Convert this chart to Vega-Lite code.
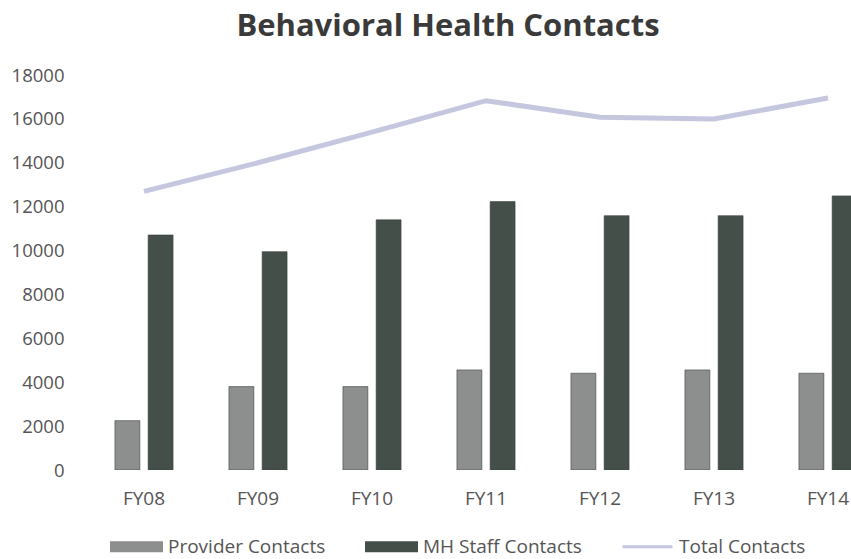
{
  "$schema": "https://vega.github.io/schema/vega-lite/v6.json",
  "width": 764,
  "height": 395,
  "autosize": "none",
  "padding": {"left": 87, "top": 75, "right": 0, "bottom": 89},
  "background": "white",
  "title": {
    "text": "Behavioral Health Contacts",
    "font": "Open Sans",
    "fontSize": 31,
    "fontWeight": "bold",
    "color": "#3a3a3a",
    "anchor": "middle",
    "dx": -21,
    "offset": 23
  },
  "config": {
    "view": {"stroke": null},
    "font": "Open Sans"
  },
  "data": {
    "values": [
      {"fy": "FY08", "series": "Provider Contacts", "value": 2250},
      {"fy": "FY08", "series": "MH Staff Contacts", "value": 10710},
      {"fy": "FY08", "series": "Total Contacts", "value": 12700},
      {"fy": "FY09", "series": "Provider Contacts", "value": 3800},
      {"fy": "FY09", "series": "MH Staff Contacts", "value": 9950},
      {"fy": "FY09", "series": "Total Contacts", "value": 14000},
      {"fy": "FY10", "series": "Provider Contacts", "value": 3800},
      {"fy": "FY10", "series": "MH Staff Contacts", "value": 11400},
      {"fy": "FY10", "series": "Total Contacts", "value": 15400},
      {"fy": "FY11", "series": "Provider Contacts", "value": 4560},
      {"fy": "FY11", "series": "MH Staff Contacts", "value": 12230},
      {"fy": "FY11", "series": "Total Contacts", "value": 16830},
      {"fy": "FY12", "series": "Provider Contacts", "value": 4410},
      {"fy": "FY12", "series": "MH Staff Contacts", "value": 11590},
      {"fy": "FY12", "series": "Total Contacts", "value": 16080},
      {"fy": "FY13", "series": "Provider Contacts", "value": 4560},
      {"fy": "FY13", "series": "MH Staff Contacts", "value": 11590},
      {"fy": "FY13", "series": "Total Contacts", "value": 16000},
      {"fy": "FY14", "series": "Provider Contacts", "value": 4410},
      {"fy": "FY14", "series": "MH Staff Contacts", "value": 12490},
      {"fy": "FY14", "series": "Total Contacts", "value": 16950}
    ]
  },
  "encoding": {
    "x": {
      "field": "fy",
      "type": "nominal",
      "sort": null,
      "title": null,
      "scale": {"range": [0, 798], "paddingInner": 0.49, "paddingOuter": 0.245},
      "axis": {
        "labelAngle": 0,
        "domain": false,
        "ticks": false,
        "labelPadding": 19,
        "labelFont": "Open Sans",
        "labelFontSize": 19,
        "labelColor": "#555555"
      }
    },
    "y": {
      "field": "value",
      "type": "quantitative",
      "title": null,
      "scale": {"domain": [0, 18000], "nice": false},
      "axis": {
        "values": [0, 2000, 4000, 6000, 8000, 10000, 12000, 14000, 16000, 18000],
        "format": "d",
        "grid": false,
        "domain": false,
        "ticks": false,
        "labelPadding": 23,
        "labelFont": "Open Sans",
        "labelFontSize": 18.5,
        "labelColor": "#555555"
      }
    },
    "color": {
      "field": "series",
      "type": "nominal",
      "scale": {
        "domain": ["Provider Contacts", "MH Staff Contacts", "Total Contacts"],
        "range": ["#8c8f8e", "#444f4a", "#c4c7de"]
      },
      "legend": {
        "title": null,
        "orient": "none",
        "direction": "horizontal",
        "legendX": 23,
        "legendY": 445,
        "columnPadding": 34,
        "labelFont": "Open Sans",
        "labelFontSize": 19,
        "labelColor": "#555555",
        "labelOffset": 5,
        "symbolSize": 2500,
        "symbolStrokeWidth": 3,
        "encode": {
          "symbols": {
            "update": {
              "shape": {"signal": "datum.value === 'Total Contacts' ? 'stroke' : 'M-1,-0.16H1V0.16H-1Z'"},
              "fill": {"signal": "datum.value === 'Total Contacts' ? 'transparent' : (datum.value === 'Provider Contacts' ? '#8c8f8e' : '#444f4a')"},
              "stroke": {"signal": "datum.value === 'Total Contacts' ? '#c4c7de' : 'transparent'"},
              "strokeWidth": {"value": 3},
              "opacity": {"value": 1}
            }
          }
        }
      }
    }
  },
  "layer": [
    {
      "transform": [{"filter": "datum.series !== 'Total Contacts'"}],
      "mark": {"type": "bar", "clip": true, "stroke": "#3a3f3c", "strokeWidth": 0.6},
      "encoding": {
        "xOffset": {
          "field": "series",
          "type": "nominal",
          "scale": {"domain": ["Provider Contacts", "MH Staff Contacts"], "paddingInner": 0.25}
        }
      }
    },
    {
      "transform": [{"filter": "datum.series === 'Total Contacts'"}],
      "mark": {"type": "line", "strokeWidth": 5, "clip": true},
      "encoding": {}
    }
  ]
}
